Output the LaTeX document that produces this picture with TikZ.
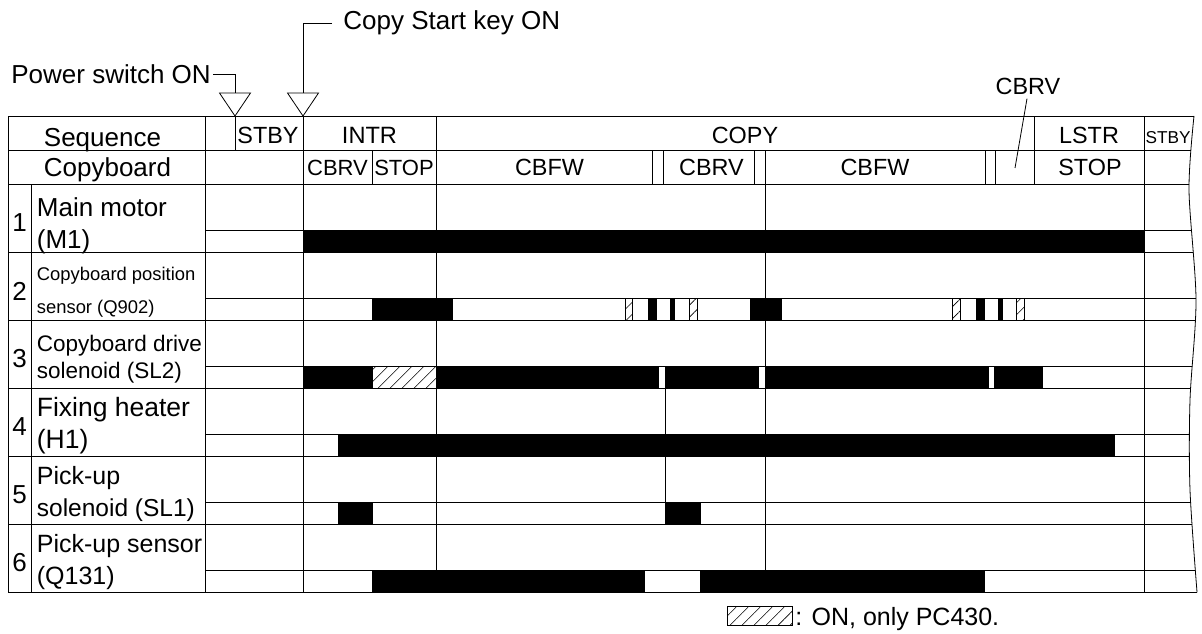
\documentclass[tikz,border=0pt]{standalone}
\usepackage{fontspec}
\setmainfont{Liberation Sans}
\usetikzlibrary{patterns.meta}
\tikzset{
  txt/.style={inner sep=0pt,font=\fontsize{#1}{#1}\selectfont},
  on/.style={draw,fill=black},
  pc/.style={draw,pattern={Lines[angle=45,distance=8.5pt,line width=.6pt]}},
  tri/.style={draw,fill=white},
}
\begin{document}
\begin{tikzpicture}[x=1pt,y=-1pt,line width=.8pt]
\useasboundingbox (0,0) rectangle (1202,634);
% horizontal rules, cut off by the break line
\begin{scope}
\clip (0,100) -- (1194,100) -- plot[smooth] coordinates {(1194,116) (1189,190) (1196,300) (1190,400) (1190,490) (1197,592)} -- (1197,620) -- (0,620) -- cycle;
\foreach \y in {116,150,184,252,320,388,456,524,592} \draw (8,\y)--(1210,\y);
\foreach \y in {230,298,366,434,502,570} \draw (205,\y)--(1210,\y);
\end{scope}
\draw plot[smooth] coordinates {(1194,116) (1189,190) (1196,300) (1190,400) (1190,490) (1197,592)};
% columns
\foreach \x in {8,205,303,436,1144} \draw (\x,116)--(\x,592);
\draw (31,184)--(31,592) (765,150)--(765,592) (665,388)--(665,502);
\draw (235,116)--(235,150) (1034,116)--(1034,184);
\foreach \x in {372,652,663,754,985,995.5} \draw (\x,150)--(\x,184);
% timing bars
\foreach \a/\b/\t in {303/1144/230, 372/452/298,648/656/298,670/674/298,750/781/298,976/984/298,998/1002/298,
  303/372/366,436/658/366,665/758/366,765/988/366,994.5/1042/366, 338/1114/434,
  338/372/502,665/700/502, 372/644/570,700/984/570}
  \draw[on] (\a,\t) rectangle (\b,\t+22);
\foreach \a/\b/\t in {625/632/298,689/697/298,952/960/298,1016/1024/298, 372/436/366}
  \draw[pc] (\a,\t) rectangle (\b,\t+22);
% header
\node[txt=26,anchor=base] (seq) at (102.5,146.5) {Sequence};
\node[txt=26,anchor=base] (cbd) at (107.5,176.5) {Copyboard};
\node[txt=23.4,anchor=base] (stbya) at (268,143.5) {STBY};
\node[txt=23.6,anchor=base] (intr) at (369.5,143.5) {INTR};
\node[txt=23.4,anchor=base] (copy) at (745,143.5) {COPY};
\node[txt=23.4,anchor=base] (lstr) at (1089,143.5) {LSTR};
\node[txt=17.2,anchor=base] (stbyb) at (1168,143.5) {STBY};
\node[txt=22,anchor=base] (cbrva) at (337.5,175.5) {CBRV};
\node[txt=22,anchor=base] (stopa) at (404,175.5) {STOP};
\node[txt=23.4,anchor=base] (cbfwa) at (549.5,175.5) {CBFW};
\node[txt=23.4,anchor=base] (cbrvb) at (711.5,175.5) {CBRV};
\node[txt=23.4,anchor=base] (cbfwb) at (875,175.5) {CBFW};
\node[txt=23.4,anchor=base] (stopb) at (1090,175.5) {STOP};
% row names
\foreach \n/\t in {1/184,2/252,3/320,4/388,5/456,6/524} \node[txt=26] (num\n) at (19.5,\t+39) {\n};
\node[txt=26,anchor=base west] (mma) at (36.5,216) {Main motor};
\node[txt=26,anchor=base west] (mmb) at (36.5,248) {(M1)};
\node[txt=18.4,anchor=base west] (cpa) at (36.5,280) {Copyboard position};
\node[txt=18.4,anchor=base west] (cpb) at (36.5,313) {sensor (Q902)};
\node[txt=22.5,anchor=base west] (cda) at (36.5,351) {Copyboard drive};
\node[txt=22.5,anchor=base west] (cdb) at (36.5,378) {solenoid (SL2)};
\node[txt=26.5,anchor=base west] (fha) at (36.5,416) {Fixing heater};
\node[txt=26.5,anchor=base west] (fhb) at (36.5,448) {(H1)};
\node[txt=25,anchor=base west] (psla) at (36.5,484) {Pick-up};
\node[txt=24.5,anchor=base west] (pslb) at (36.5,516) {solenoid (SL1)};
\node[txt=25,anchor=base west] (psna) at (36.5,552) {Pick-up sensor};
\node[txt=25,anchor=base west] (psnb) at (36.5,584) {(Q131)};
% events
\node[txt=26,anchor=base west] (psw) at (11,83.5) {Power switch ON};
\node[txt=26,anchor=base west] (csk) at (343,30) {Copy Start key ON};
\coordinate (pswtip) at (235,93); \coordinate (csktip) at (303,93);
\draw ([xshift=2pt]psw.east) -| (pswtip);
\draw ([xshift=-11pt]csk.west) -| (csktip);
\draw[tri] (pswtip) -- ++(-15.5,0) -- ++(15.5,23) -- ++(15.5,-23) -- cycle;
\draw[tri] (csktip) -- ++(-15.5,0) -- ++(15.5,23) -- ++(15.5,-23) -- cycle;
\node[txt=23.4,anchor=base] (cbrvc) at (1028,95) {CBRV};
\coordinate (cbrvpt) at (1015,168);
\draw ([xshift=-1pt,yshift=-3pt]cbrvc.south) -- (cbrvpt);
% legend
\draw[pc] (727,606) rectangle (792,625);
\node[txt=25,anchor=base west] (leg) at (795,625) {: ON, only PC430.};
\end{tikzpicture}
\end{document}
